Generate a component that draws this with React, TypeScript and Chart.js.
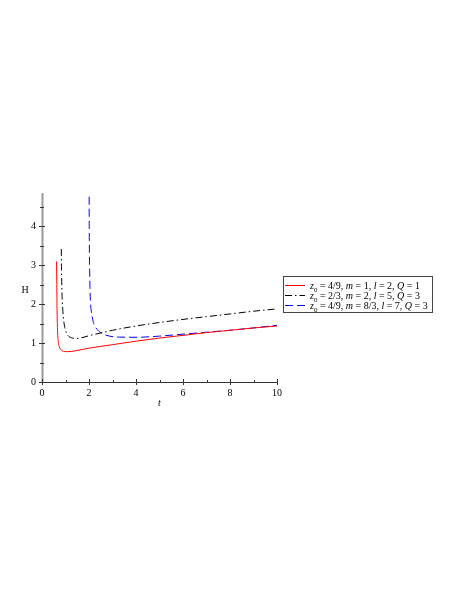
import React, { useEffect, useRef } from "react";
import { Chart, registerables } from "chart.js";

Chart.register(...registerables);

// Series 1: z0 = 4/9, m = 1, l = 2, Q = 1 (red, solid)
const redT = [0.62, 0.63, 0.64, 0.66, 0.69, 0.74, 0.82, 0.95, 1.1, 1.4, 2, 3, 4, 5, 6, 7, 8, 9, 10];
const redH = [3.1, 2.5, 1.9, 1.35, 1.05, 0.9, 0.82, 0.785, 0.78, 0.8, 0.87, 0.96, 1.05, 1.13, 1.2, 1.27, 1.33, 1.39, 1.44];

// Series 2: z0 = 2/3, m = 2, l = 5, Q = 3 (black, dash-dot)
const blackT = [0.82, 0.83, 0.85, 0.88, 0.92, 0.97, 1.05, 1.15, 1.3, 1.45, 1.7, 2, 2.5, 3, 4, 5, 6, 7, 8, 9, 10];
const blackH = [3.42, 2.9, 2.3, 1.9, 1.6, 1.4, 1.25, 1.17, 1.13, 1.12, 1.14, 1.19, 1.26, 1.33, 1.44, 1.53, 1.61, 1.68, 1.75, 1.82, 1.88];

// Series 3: z0 = 4/9, m = 8/3, l = 7, Q = 3 (blue, dashed)
const blueT = [2.0, 2.01, 2.03, 2.06, 2.1, 2.16, 2.23, 2.35, 2.52, 2.87, 3.3, 4, 5, 6, 7, 8, 9, 10];
const blueH = [6.0, 4.0, 2.8, 2.1, 1.82, 1.6, 1.46, 1.35, 1.26, 1.18, 1.155, 1.15, 1.18, 1.23, 1.28, 1.33, 1.39, 1.46];

const xTicks = [0, 2, 4, 6, 8, 10];
const yTicks = [0, 1, 2, 3, 4];
const xMinor = [1, 3, 5, 7, 9];
const yMinor = [0.5, 1.5, 2.5, 3.5, 4.5];

const legendZ0 = ["4/9", "2/3", "4/9"];
const legendM = ["1", "2", "8/3"];
const legendL = ["2", "5", "7"];
const legendQ = ["1", "3", "3"];
const seriesColors = ["#ff0000", "#000000", "#0000ff"];
const seriesDash: number[][] = [[], [7, 3, 1.5, 3], [8, 4]];

const FONT = '"Liberation Serif", "DejaVu Serif", serif';

const toPts = (t: number[], h: number[]) => t.map((x, i) => ({ x, y: h[i] }));

const customPlugin = {
  id: "custom",
  afterDraw(chart: any) {
    const ctx = chart.ctx as CanvasRenderingContext2D;
    const { left, right, top, bottom } = chart.chartArea;
    const xs = chart.scales.x;
    const ys = chart.scales.y;
    ctx.save();
    // axes
    ctx.strokeStyle = "#333";
    ctx.lineWidth = 1;
    ctx.beginPath();
    ctx.moveTo(left, bottom + 0.5);
    ctx.lineTo(right, bottom + 0.5);
    ctx.stroke();
    ctx.strokeStyle = "#999";
    ctx.lineWidth = 2;
    ctx.beginPath();
    ctx.moveTo(left + 0.5, top);
    ctx.lineTo(left + 0.5, bottom + 1);
    ctx.stroke();
    // ticks
    ctx.strokeStyle = "#333";
    ctx.lineWidth = 1;
    ctx.beginPath();
    xTicks.forEach((v) => {
      const px = Math.round(xs.getPixelForValue(v)) + 0.5;
      ctx.moveTo(px, bottom - 3);
      ctx.lineTo(px, bottom + 3);
    });
    xMinor.forEach((v) => {
      const px = Math.round(xs.getPixelForValue(v)) + 0.5;
      ctx.moveTo(px, bottom - 2);
      ctx.lineTo(px, bottom + 0.5);
    });
    yTicks.forEach((v) => {
      const py = Math.round(ys.getPixelForValue(v)) + 0.5;
      ctx.moveTo(left - 3, py);
      ctx.lineTo(left + 3, py);
    });
    yMinor.forEach((v) => {
      const py = Math.round(ys.getPixelForValue(v)) + 0.5;
      ctx.moveTo(left - 2, py);
      ctx.lineTo(left + 2, py);
    });
    ctx.stroke();
    // axis titles
    ctx.fillStyle = "#000";
    ctx.textAlign = "center";
    ctx.textBaseline = "middle";
    ctx.font = `10px ${FONT}`;
    ctx.fillText("H", 25, 290);
    ctx.font = `italic 10px ${FONT}`;
    ctx.fillText("t", (left + right) / 2, 403);

    // legend
    const bx = 283.5, by = 276.5, bw = 149, bh = 36;
    ctx.strokeStyle = "#444";
    ctx.lineWidth = 1;
    ctx.strokeRect(bx, by, bw, bh);
    for (let i = 0; i < 3; i++) {
      const ry = 285 + i * 10 + 0.5;
      ctx.strokeStyle = seriesColors[i];
      ctx.setLineDash(seriesDash[i]);
      ctx.beginPath();
      ctx.moveTo(285, ry);
      ctx.lineTo(305, ry);
      ctx.stroke();
      ctx.setLineDash([]);
      const parts: { t: string; it?: boolean; sub?: boolean }[] = [
        { t: "z", it: true },
        { t: "0", sub: true },
        { t: " = " + legendZ0[i] + ", " },
        { t: "m", it: true },
        { t: " = " + legendM[i] + ", " },
        { t: "l", it: true },
        { t: " = " + legendL[i] + ", " },
        { t: "Q", it: true },
        { t: " = " + legendQ[i] },
      ];
      let x = 310;
      ctx.textAlign = "left";
      ctx.textBaseline = "alphabetic";
      ctx.fillStyle = "#000";
      parts.forEach((p) => {
        ctx.font = `${p.it ? "italic " : ""}${p.sub ? 7 : 10}px ${FONT}`;
        ctx.fillText(p.t, x, ry + 3.5 + (p.sub ? 2.5 : 0));
        x += ctx.measureText(p.t).width;
      });
    }
    ctx.restore();
  },
};

export default function App() {
  const ref = useRef<HTMLCanvasElement | null>(null);
  useEffect(() => {
    if (!ref.current) return;
    const chart = new Chart(ref.current, {
      type: "scatter",
      data: {
        datasets: [
          { data: toPts(redT, redH), borderColor: seriesColors[0], borderDash: seriesDash[0] },
          { data: toPts(blackT, blackH), borderColor: seriesColors[1], borderDash: seriesDash[1] },
          { data: toPts(blueT, blueH), borderColor: seriesColors[2], borderDash: seriesDash[2] },
        ].map((d) => ({
          ...d,
          showLine: true,
          pointRadius: 0,
          borderWidth: 1,
          cubicInterpolationMode: "monotone" as const,
        })),
      },
      options: {
        animation: false,
        responsive: false,
        layout: { padding: { left: 0, top: 193, right: 186, bottom: 192 } },
        plugins: { legend: { display: false }, tooltip: { enabled: false } },
        scales: {
          x: {
            type: "linear",
            min: 0,
            max: 10,
            afterFit: (s: any) => { s.height = 25; },
            afterBuildTicks: (s: any) => { s.ticks = xTicks.map((v) => ({ value: v })); },
            grid: { display: false, drawTicks: false },
            border: { display: false },
            ticks: { color: "#000", font: { family: FONT, size: 10 }, padding: 5, maxRotation: 0 },
          },
          y: {
            type: "linear",
            min: 0,
            max: 4.86,
            afterFit: (s: any) => { s.width = 42; },
            afterBuildTicks: (s: any) => { s.ticks = yTicks.map((v) => ({ value: v })); },
            grid: { display: false, drawTicks: false },
            border: { display: false },
            ticks: { color: "#000", font: { family: FONT, size: 10 }, padding: 6 },
          },
        },
      },
      plugins: [customPlugin],
    });
    return () => chart.destroy();
  }, []);
  return (
    <canvas
      ref={ref}
      width={463}
      height={599}
      style={{ position: "absolute", left: 0, top: 0, width: 463, height: 599 }}
    />
  );
}
